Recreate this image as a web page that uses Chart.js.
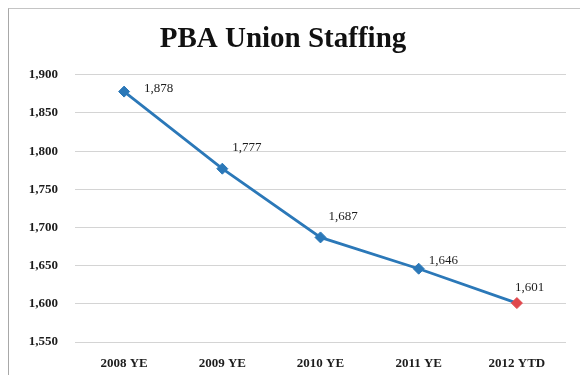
<!DOCTYPE html>
<html>
<head>
<meta charset="utf-8">
<script src="https://cdn.jsdelivr.net/npm/chart.js@4/dist/chart.umd.min.js"></script>
<style>
  html, body { margin: 0; padding: 0; background: #fff; }
  #wrap { position: relative; width: 580px; height: 375px; overflow: hidden; }
  #frame {
    position: absolute; left: 8px; top: 8px; width: 600px; height: 400px;
    border-left: 1px solid #a8a8a8; border-top: 1px solid #c4c4c4;
  }
  canvas { position: absolute; left: 0; top: 0; }
</style>
</head>
<body>
<div id="wrap">
  <div id="frame"></div>
  <canvas id="chart" width="580" height="375"></canvas>
</div>
<script>
// ── Data ───────────────────────────────────────────────────────────────────
const periods = ['2008 YE', '2009 YE', '2010 YE', '2011 YE', '2012 YTD'];
const staffing = [1878, 1777, 1687, 1646, 1601];
const yTicks = [1550, 1600, 1650, 1700, 1750, 1800, 1850, 1900];

// ── Styles ─────────────────────────────────────────────────────────────────
const SERIF = "'Liberation Serif', 'Times New Roman', serif";
const LINE_BLUE = '#2b78b8';
const YTD_RED = '#e0474c';
const INK = '#1c1c1c';

function fmtNum(n) {
  return n.toLocaleString('en-US');
}

// Value labels, nudged per point like the spreadsheet layout
const valueLabels = {
  id: 'valueLabels',
  afterDatasetsDraw(chart, args, opts) {
    const { ctx } = chart;
    const meta = chart.getDatasetMeta(0);
    ctx.save();
    ctx.font = `13px ${SERIF}`;
    ctx.fillStyle = INK;
    ctx.textAlign = 'left';
    ctx.textBaseline = 'middle';
    meta.data.forEach((pt, i) => {
      const [dx, dy] = opts.offsets[i] || [8, -12];
      ctx.fillText(fmtNum(staffing[i]), pt.x + dx, pt.y + dy);
    });
    ctx.restore();
  },
};

const ctx = document.getElementById('chart').getContext('2d');
new Chart(ctx, {
  type: 'line',
  data: {
    labels: periods,
    datasets: [{
      data: staffing,
      borderColor: LINE_BLUE,
      borderWidth: 2.8,
      tension: 0,
      pointStyle: 'rectRot',
      pointRadius: 5.5,
      pointBackgroundColor: staffing.map((v, i) => i === staffing.length - 1 ? YTD_RED : LINE_BLUE),
      pointBorderColor: staffing.map((v, i) => i === staffing.length - 1 ? YTD_RED : LINE_BLUE),
      pointBorderWidth: 1,
    }],
  },
  options: {
    responsive: false,
    animation: false,
    layout: { padding: { left: 0, right: 14, top: 0, bottom: 0 } },
    plugins: {
      legend: { display: false },
      tooltip: { enabled: false },
      title: {
        display: true,
        text: 'PBA Union Staffing',
        color: '#111',
        font: { family: SERIF, size: 29, weight: 'bold', lineHeight: 1.2 },
        padding: { top: 22, bottom: 18 },
      },
      valueLabels: {
        offsets: [[20, -3], [10, -21], [8, -21], [10, -8], [-2, -15]],
      },
    },
    scales: {
      x: {
        offset: true,
        grid: { display: false },
        border: { display: false },
        ticks: {
          color: INK,
          padding: 6,
          font: { family: SERIF, size: 13, weight: 'bold' },
        },
        afterFit(scale) { scale.height = 33; },
      },
      y: {
        min: 1550,
        max: 1900,
        afterBuildTicks(scale) { scale.ticks = yTicks.map(v => ({ value: v })); },
        grid: { color: '#d4d4d4', drawTicks: false, lineWidth: 1 },
        border: { display: false },
        ticks: {
          color: INK,
          padding: 17,
          font: { family: SERIF, size: 13, weight: 'bold' },
          callback: (v) => fmtNum(v),
        },
        afterFit(scale) { scale.width = 75; },
      },
    },
  },
  plugins: [valueLabels],
});
</script>
</body>
</html>
